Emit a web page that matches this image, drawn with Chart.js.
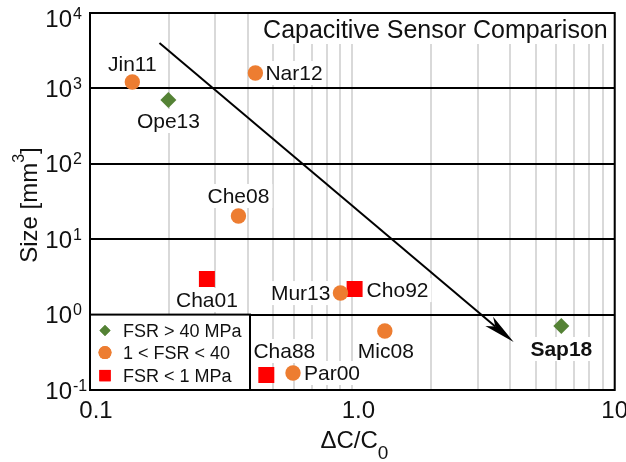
<!DOCTYPE html>
<html lang="en">
<head>
<meta charset="utf-8">
<title>Capacitive Sensor Comparison</title>
<script src="https://cdn.jsdelivr.net/npm/chart.js@4.4.1/dist/chart.umd.min.js"></script>
<style>
  html, body { margin: 0; padding: 0; background: #fff; }
  canvas { display: block; }
</style>
</head>
<body>
<canvas id="sensorChart" width="626" height="462"></canvas>
<script>
// Datos del gráfico
const seriesLabels = ['FSR > 40 MPa', '1 < FSR < 40', 'FSR < 1 MPa'];

const highNames = ['Ope13', 'Sap18'];
const highX = [0.199, 6.26];
const highY = [702, 0.706];

const midNames = ['Jin11', 'Nar12', 'Che08', 'Mur13', 'Mic08', 'Par00'];
const midX = [0.145, 0.427, 0.368, 0.901, 1.33, 0.594];
const midY = [1216, 1600, 20.3, 1.93, 0.605, 0.168];

const lowNames = ['Cha01', 'Cho92', 'Cha88'];
const lowX = [0.279, 1.02, 0.47];
const lowY = [2.97, 2.18, 0.158];

// Flecha de tendencia: inicio y fin (x, y)
const arrowFrom = [0.184, 4000];
const arrowTo = [4.12, 0.434];

// Etiquetas de ejes
const xTickValues = [0.1, 1, 10];
const xTickLabels = ['0.1', '1.0', '10'];
const yTickExponents = [-1, 0, 1, 2, 3, 4];
const chartTitle = 'Capacitive Sensor Comparison';
const highlighted = ['Sap18'];

// Estilo
const FONT = "'Liberation Sans', Arial, Helvetica, sans-serif";
const TEXT = '#111';
const colors = ['#548235', '#ED7D31', '#FF0000'];

// Colocación de cada etiqueta respecto a su punto
const labelPlacement = {
  Jin11: { dx: 0, dy: -18, align: 'center' },
  Ope13: { dx: 0, dy: 21, align: 'center' },
  Nar12: { dx: 10, dy: 0, align: 'left' },
  Che08: { dx: 0, dy: -20, align: 'center' },
  Cha01: { dx: 0, dy: 21, align: 'center' },
  Mur13: { dx: -10, dy: 0, align: 'right' },
  Cho92: { dx: 12, dy: 1, align: 'left' },
  Mic08: { dx: 1, dy: 20, align: 'center' },
  Sap18: { dx: 0, dy: 23, align: 'center' },
  Cha88: { dx: 18, dy: -24, align: 'center' },
  Par00: { dx: 11, dy: 0, align: 'left' },
};

const toPoints = (xs, ys, names) => xs.map((x, i) => ({ x, y: ys[i], name: names[i] }));

/**
 * Dibuja un texto con fondo blanco.
 */
const drawBoxedText = (ctx, text, x, y, align, bold) => {
  ctx.font = `${bold ? 'bold ' : ''}21px ${FONT}`;
  const w = ctx.measureText(text).width;
  let left = x;
  if (align === 'center') left = x - w / 2;
  if (align === 'right') left = x - w;
  ctx.fillStyle = '#fff';
  ctx.fillRect(left - 3, y - 12, w + 6, 24);
  ctx.fillStyle = TEXT;
  ctx.textAlign = 'left';
  ctx.textBaseline = 'middle';
  ctx.fillText(text, left, y + 1);
};

const annotationsPlugin = {
  id: 'annotations',
  beforeDatasetsDraw(chart) {
    const { ctx, chartArea: area, scales: { x, y } } = chart;
    ctx.save();

    // Título dentro del área
    ctx.font = `25px ${FONT}`;
    const tw = ctx.measureText(chartTitle).width;
    ctx.fillStyle = '#fff';
    ctx.fillRect(area.right - 7 - tw - 5, area.top, tw + 12, 31);
    ctx.fillStyle = TEXT;
    ctx.textAlign = 'right';
    ctx.textBaseline = 'alphabetic';
    ctx.fillText(chartTitle, area.right - 7, area.top + 25);

    // Etiquetas de los puntos
    chart.data.datasets.forEach((ds) => {
      ds.data.forEach((p) => {
        const pos = labelPlacement[p.name];
        drawBoxedText(ctx, p.name,
          x.getPixelForValue(p.x) + pos.dx,
          y.getPixelForValue(p.y) + pos.dy,
          pos.align, highlighted.includes(p.name));
      });
    });

    // Flecha
    const x0 = x.getPixelForValue(arrowFrom[0]);
    const y0 = y.getPixelForValue(arrowFrom[1]);
    const x1 = x.getPixelForValue(arrowTo[0]);
    const y1 = y.getPixelForValue(arrowTo[1]);
    const ang = Math.atan2(y1 - y0, x1 - x0);
    const len = 32, half = 6, notch = 8;
    const ux = Math.cos(ang), uy = Math.sin(ang);
    ctx.strokeStyle = '#000';
    ctx.lineWidth = 2;
    ctx.beginPath();
    ctx.moveTo(x0, y0);
    ctx.lineTo(x1 - ux * (len - notch), y1 - uy * (len - notch));
    ctx.stroke();
    ctx.fillStyle = '#000';
    ctx.beginPath();
    ctx.moveTo(x1, y1);
    ctx.lineTo(x1 - ux * len - uy * half, y1 - uy * len + ux * half);
    ctx.lineTo(x1 - ux * (len - notch), y1 - uy * (len - notch));
    ctx.lineTo(x1 - ux * len + uy * half, y1 - uy * len - ux * half);
    ctx.closePath();
    ctx.fill();
    ctx.restore();
  },
  afterDatasetsDraw(chart) {
    const { ctx, chartArea: area, scales: { x, y } } = chart;
    ctx.save();

    // Leyenda en la esquina inferior izquierda
    const boxTop = y.getPixelForValue(1);
    const boxW = 160;
    ctx.fillStyle = '#fff';
    ctx.fillRect(area.left, boxTop, boxW, area.bottom - boxTop);
    ctx.strokeStyle = '#000';
    ctx.lineWidth = 2;
    ctx.strokeRect(area.left, boxTop, boxW, area.bottom - boxTop);
    const styles = ['rectRot', 'circle', 'rect'];
    const radii = [5.5, 6.5, 8];
    const rows = [16, 38, 61];
    chart.data.datasets.forEach((ds, i) => {
      const cy = boxTop + rows[i];
      ctx.fillStyle = colors[i];
      Chart.helpers.drawPoint(ctx, { pointStyle: styles[i], radius: radii[i], borderWidth: 0 }, area.left + 15, cy);
      ctx.fill();
      ctx.fillStyle = TEXT;
      ctx.font = `18px ${FONT}`;
      ctx.textAlign = 'left';
      ctx.textBaseline = 'middle';
      ctx.fillText(ds.label, area.left + 33, cy + 1);
    });

    // Marco del gráfico
    ctx.strokeRect(area.left, area.top, area.right - area.left, area.bottom - area.top);

    // Etiquetas del eje Y con exponente
    ctx.fillStyle = TEXT;
    ctx.textBaseline = 'alphabetic';
    yTickExponents.forEach((e) => {
      const py = y.getPixelForValue(Math.pow(10, e));
      const base = Math.max(py + 8.5, 27);
      ctx.font = `24px ${FONT}`;
      ctx.textAlign = 'right';
      ctx.fillText('10', area.left - 18, base);
      ctx.font = `16px ${FONT}`;
      ctx.textAlign = 'left';
      ctx.fillText(String(e).replace('-', '\u2010'), area.left - 17, base - 8);
    });

    // Etiquetas del eje X
    ctx.font = `24px ${FONT}`;
    ctx.textAlign = 'center';
    xTickValues.forEach((v, i) => {
      const w = ctx.measureText(xTickLabels[i]).width;
      let px = x.getPixelForValue(v) + 6;
      if (px + w / 2 > chart.width + 2) px = chart.width + 2 - w / 2;
      ctx.fillText(xTickLabels[i], px, 418);
    });

    // Título del eje X: ΔC/C0
    const main = '\u0394C/C';
    ctx.font = `24px ${FONT}`;
    const mw = ctx.measureText(main).width;
    ctx.font = `19px ${FONT}`;
    const sw = ctx.measureText('0').width;
    const sx = (area.left + area.right) / 2 + 2 - (mw + sw) / 2;
    ctx.textAlign = 'left';
    ctx.font = `24px ${FONT}`;
    ctx.fillText(main, sx, 448);
    ctx.font = `19px ${FONT}`;
    ctx.fillText('0', sx + mw, 459);

    // Título del eje Y: Size [mm3]
    ctx.translate(37, 205);
    ctx.rotate(-Math.PI / 2);
    ctx.font = `24px ${FONT}`;
    const a = 'Size [mm', b = ']';
    const aw = ctx.measureText(a).width, bw = ctx.measureText(b).width;
    ctx.font = `16px ${FONT}`;
    const ew = ctx.measureText('3').width;
    let u = -(aw + ew + bw) / 2;
    ctx.font = `24px ${FONT}`;
    ctx.fillText(a, u, 0);
    u += aw;
    ctx.font = `16px ${FONT}`;
    ctx.fillText('3', u, -13);
    u += ew;
    ctx.font = `24px ${FONT}`;
    ctx.fillText(b, u, 0);
    ctx.restore();
  },
};

const datasets = [
  { label: seriesLabels[0], data: toPoints(highX, highY, highNames), pointStyle: 'rectRot', pointRadius: 8 },
  { label: seriesLabels[1], data: toPoints(midX, midY, midNames), pointStyle: 'circle', pointRadius: 7.7 },
  { label: seriesLabels[2], data: toPoints(lowX, lowY, lowNames), pointStyle: 'rect', pointRadius: 11.3 },
].map((ds, i) => ({ ...ds, backgroundColor: colors[i], borderWidth: 0, pointHoverRadius: ds.pointRadius }));

// Marcas del eje X: décadas y subdivisiones
const buildXTicks = (scale) => {
  const ticks = [];
  [0.1, 1].forEach((d) => {
    for (let k = 1; k <= 9; k++) ticks.push({ value: +(d * k).toPrecision(3) });
  });
  ticks.push({ value: 10 });
  scale.ticks = ticks;
};

const chartInstance = new Chart(document.getElementById('sensorChart'), {
  type: 'scatter',
  data: { datasets },
  options: {
    responsive: false,
    animation: false,
    layout: { padding: { top: 13, right: 6, left: 0, bottom: 0 } },
    plugins: { legend: { display: false }, tooltip: { enabled: false } },
    scales: {
      x: {
        type: 'logarithmic',
        min: 0.1,
        max: 10,
        ticks: { display: false },
        border: { display: false },
        grid: { color: '#d9d9d9', lineWidth: 2, drawTicks: false },
        afterBuildTicks: buildXTicks,
        afterFit: (scale) => { scale.height = 72; },
      },
      y: {
        type: 'logarithmic',
        min: 0.1,
        max: 10000,
        ticks: { display: false },
        border: { display: false },
        grid: { color: '#000', lineWidth: 2, drawTicks: false },
        afterBuildTicks: (scale) => {
          scale.ticks = yTickExponents.map((e) => ({ value: Math.pow(10, e) }));
        },
        afterFit: (scale) => { scale.width = 90; },
      },
    },
  },
  plugins: [annotationsPlugin],
});
</script>
</body>
</html>
